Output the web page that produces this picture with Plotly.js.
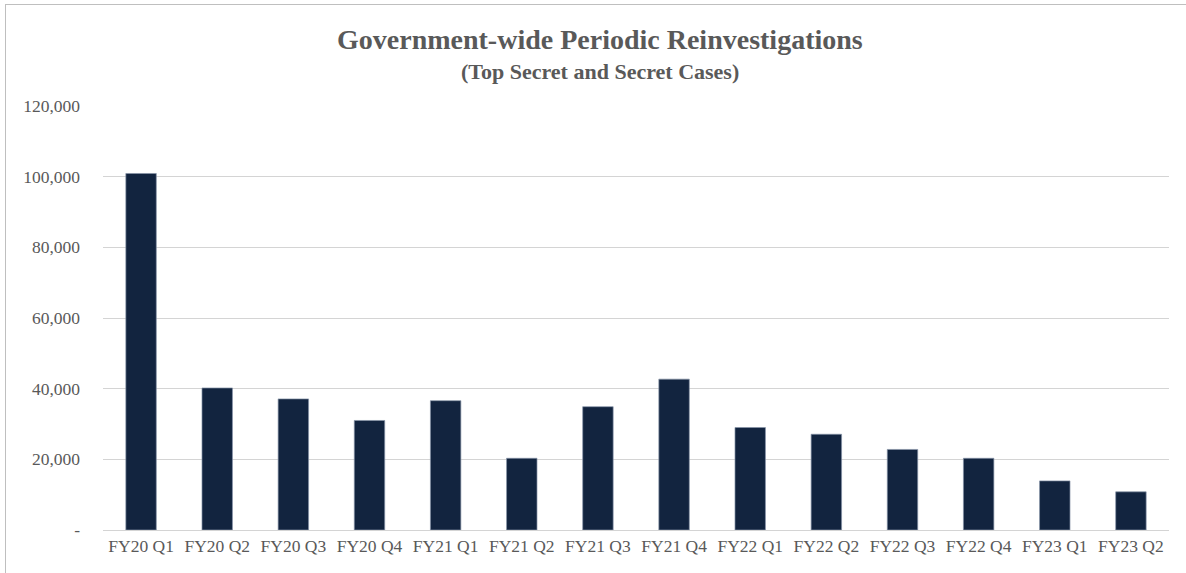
<!DOCTYPE html>
<html>
<head>
<meta charset="utf-8">
<script src="https://cdn.plot.ly/plotly-3.0.1.min.js"></script>
<style>
html,body{margin:0;padding:0;background:#fff;}
#wrap{position:relative;width:1186px;height:573px;}
#chart{position:absolute;left:0;top:0;width:1186px;height:573px;}
#frame{position:absolute;left:5px;top:4px;width:1190px;height:580px;border:1.5px solid #bfbfbf;pointer-events:none;}
</style>
</head>
<body>
<div id="wrap"><div id="chart"></div><div id="frame"></div></div>
<script>
const categories = ["FY20 Q1","FY20 Q2","FY20 Q3","FY20 Q4","FY21 Q1","FY21 Q2","FY21 Q3","FY21 Q4","FY22 Q1","FY22 Q2","FY22 Q3","FY22 Q4","FY23 Q1","FY23 Q2"];
const cases = [100900,40200,37100,31000,36600,20300,34900,42700,29000,27100,22800,20300,13900,10800];
const yTickVals = [0,20000,40000,60000,80000,100000,120000];
const yTickText = ["-","20,000","40,000","60,000","80,000","100,000","120,000"];
const titleText = "<b>Government-wide Periodic Reinvestigations</b>";
const subtitleText = "<b>(Top Secret and Secret Cases)</b>";

const fontFam = "'Liberation Serif', 'DejaVu Serif', serif";
const data = [{
  type: 'bar',
  x: categories,
  y: cases,
  marker: {color: '#12243f', line: {color: '#8794a8', width: 0.7}},
  hoverinfo: 'x+y'
}];
const layout = {
  width: 1186, height: 573,
  margin: {l: 103, r: 17, t: 106, b: 43},
  paper_bgcolor: 'rgba(0,0,0,0)', plot_bgcolor: '#fff',
  bargap: 0.6,
  showlegend: false,
  font: {family: fontFam, color: '#595959', size: 17},
  xaxis: {
    type: 'category', showgrid: false, zeroline: false, showline: false,
    ticks: '', tickfont: {family: fontFam, size: 17.5, color: '#595959'},
    ticklabelstandoff: 3
  },
  yaxis: {
    range: [0, 120000], tickvals: yTickVals, ticktext: yTickText,
    showgrid: true, gridcolor: '#d4d4d4', gridwidth: 1,
    zeroline: true, zerolinecolor: '#d4d4d4', zerolinewidth: 1,
    showline: false, ticks: '',
    tickfont: {family: fontFam, size: 17.5, color: '#595959'},
    ticklabelstandoff: 22
  },
  annotations: [
    {text: titleText, xref: 'paper', yref: 'paper', x: (600-103)/1066, y: (530-40)/424,
     xanchor: 'center', yanchor: 'middle', showarrow: false,
     font: {family: fontFam, size: 28, color: '#595959'}},
    {text: subtitleText, xref: 'paper', yref: 'paper', x: (600-103)/1066, y: (530-72)/424,
     xanchor: 'center', yanchor: 'middle', showarrow: false,
     font: {family: fontFam, size: 22, color: '#595959'}}
  ]
};
Plotly.newPlot('chart', data, layout, {displayModeBar: false, staticPlot: false});
</script>
</body>
</html>
